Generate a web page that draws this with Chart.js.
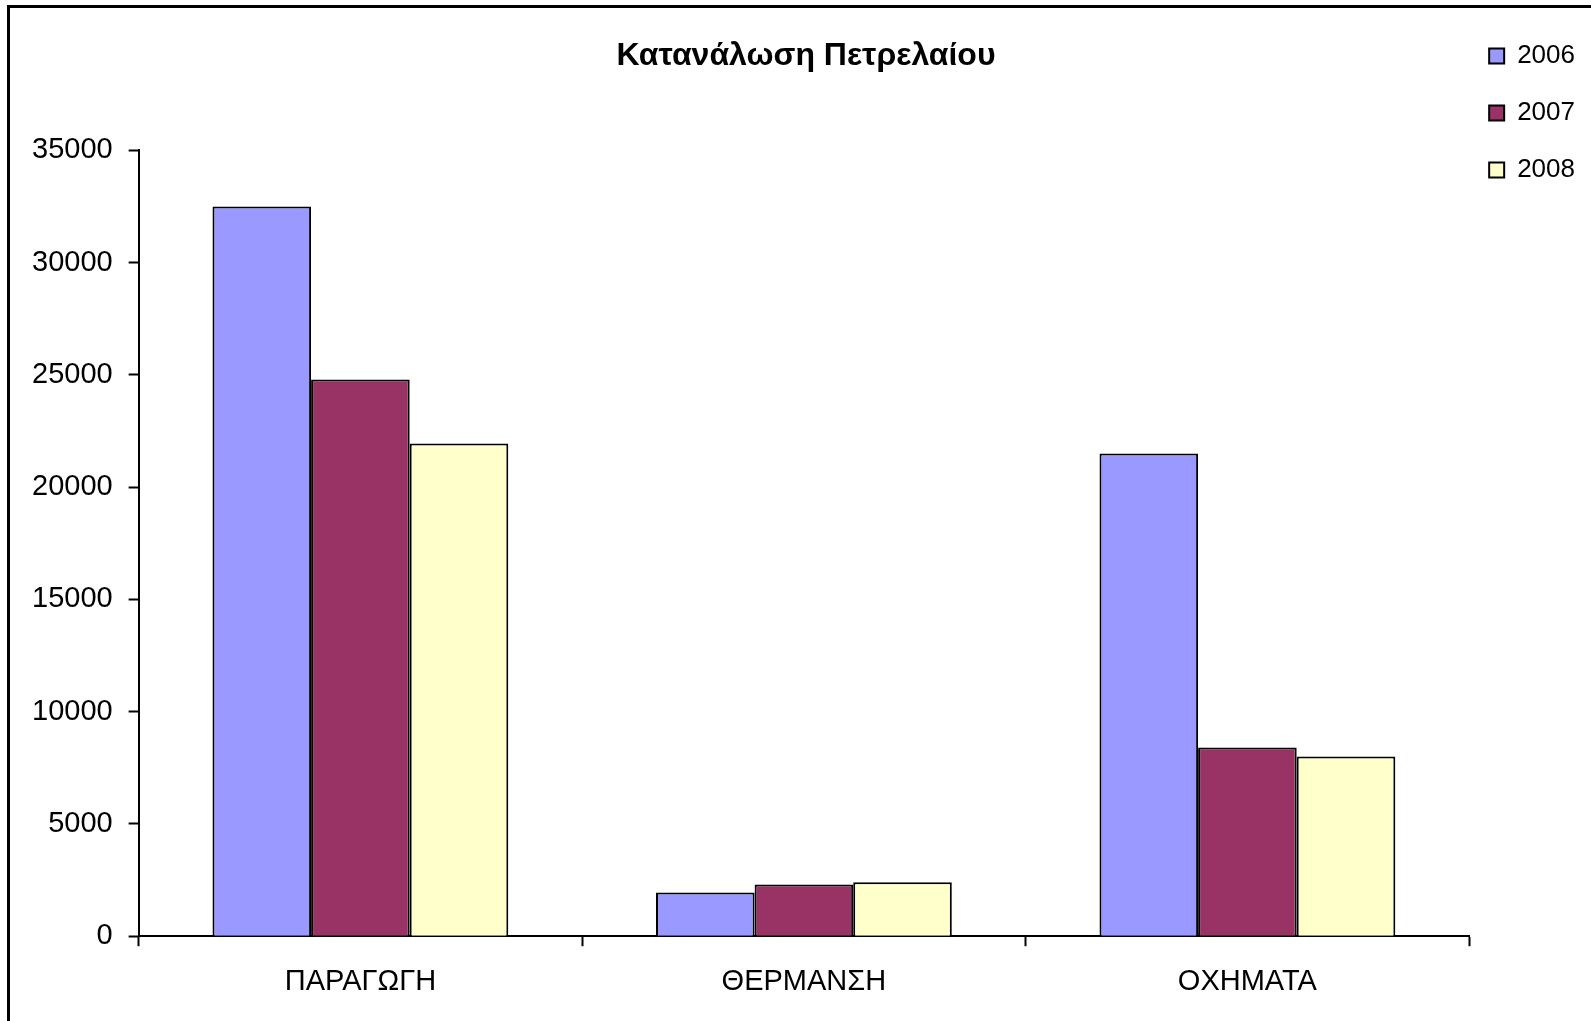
<!DOCTYPE html>
<html lang="el">
<head>
    <meta charset="utf-8">
    <title>Κατανάλωση Πετρελαίου</title>
    <style>
        * {
            margin: 0;
            padding: 0;
            box-sizing: border-box;
        }
        body {
            width: 1591px;
            height: 1021px;
            background: #ffffff;
            overflow: hidden;
            position: relative;
        }
        /* cropped frame of the original sheet: only top and left edges show */
        .frame {
            position: absolute;
            left: 7px;
            top: 5px;
            width: 1584px;
            height: 1016px;
            border-top: 3px solid #000;
            border-left: 3px solid #000;
            pointer-events: none;
        }
        #chart {
            position: absolute;
            left: 0;
            top: 0;
        }
    </style>
</head>
<body>
    <canvas id="chart" width="1591" height="1021"></canvas>
    <div class="frame"></div>

    <script src="https://cdn.jsdelivr.net/npm/chart.js@4.4.1/dist/chart.umd.min.js"></script>
    <script>
        // Data
        const categories = ["ΠΑΡΑΓΩΓΗ", "ΘΕΡΜΑΝΣΗ", "ΟΧΗΜΑΤΑ"];
        const years = ["2006", "2007", "2008"];
        const values2006 = [32500, 1950, 21500];
        const values2007 = [24800, 2300, 8400];
        const values2008 = [21950, 2400, 8000];
        const yTicks = [0, 5000, 10000, 15000, 20000, 25000, 30000, 35000];

        const seriesValues = [values2006, values2007, values2008];
        const barColors = ["#9999ff", "#993366", "#ffffcc"];

        const fontFamily = "'Liberation Sans', Arial, sans-serif";

        // the legend sits a little into the plot's right margin, like the original
        const legendNudge = {
            id: "legendNudge",
            afterLayout(chart) {
                chart.legend.left -= 11;
                chart.legend.right -= 11;
            }
        };

        const ctx = document.getElementById("chart");
        new Chart(ctx, {
            type: "bar",
            plugins: [legendNudge],
            data: {
                labels: categories,
                datasets: years.map((y, i) => ({
                    label: y,
                    data: seriesValues[i],
                    backgroundColor: barColors[i],
                    borderColor: "#000000",
                    borderWidth: 2,
                    borderSkipped: "bottom",
                    categoryPercentage: 0.667,
                    barPercentage: 1.0,
                })),
            },
            options: {
                responsive: false,
                animation: false,
                layout: {
                    padding: { top: 12, left: 16, right: -5, bottom: 4 }
                },
                plugins: {
                    tooltip: { enabled: false },
                    title: {
                        display: true,
                        text: "Κατανάλωση Πετρελαίου",
                        color: "#000000",
                        font: { family: fontFamily, size: 32, weight: "bold" },
                        padding: { top: 25, bottom: 75 },
                    },
                    legend: {
                        position: "right",
                        align: "start",
                        labels: {
                            color: "#000000",
                            font: { family: fontFamily, size: 26 },
                            boxWidth: 15,
                            boxHeight: 15,
                            padding: 31,
                        },
                    },
                },
                scales: {
                    x: {
                        grid: {
                            offset: true,
                            drawOnChartArea: false,
                            drawTicks: true,
                            tickLength: 10,
                            tickWidth: 2,
                            tickColor: "#000000",
                        },
                        border: { display: true, color: "#000000", width: 2 },
                        ticks: {
                            color: "#000000",
                            padding: 18,
                            font: { family: fontFamily, size: 29 },
                            maxRotation: 0,
                        },
                    },
                    y: {
                        min: 0,
                        max: yTicks[yTicks.length - 1],
                        afterBuildTicks: (scale) => {
                            scale.ticks = yTicks.map(v => ({ value: v }));
                        },
                        grid: {
                            drawOnChartArea: false,
                            drawTicks: true,
                            tickLength: 10,
                            tickWidth: 2,
                            tickColor: "#000000",
                        },
                        border: { display: true, color: "#000000", width: 2 },
                        ticks: {
                            color: "#000000",
                            padding: 16,
                            font: { family: fontFamily, size: 29 },
                            callback: (v) => String(v),
                        },
                    },
                },
            },
        });
    </script>
</body>
</html>
